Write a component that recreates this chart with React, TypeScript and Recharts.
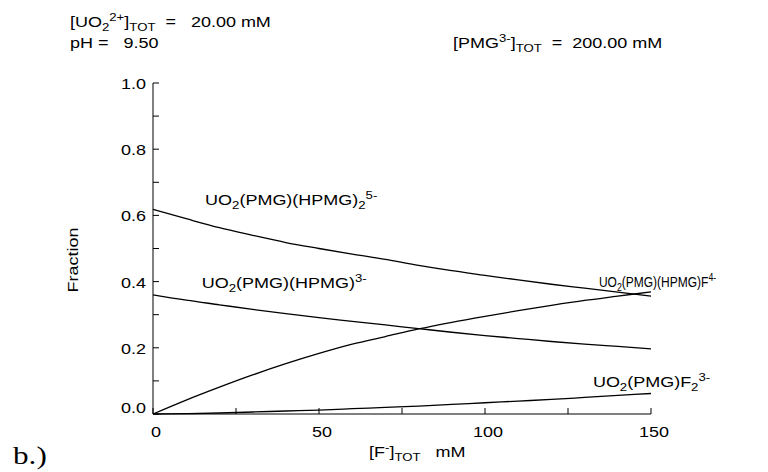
import React from 'react'
import { LineChart, Line, XAxis, YAxis, ReferenceDot } from 'recharts'

// [F-]TOT in mM
const fluoride = [0, 10, 20, 30, 40, 50, 60, 70, 80, 90, 100, 110, 120, 130, 140, 150]

// species fractions
const pmgHpmg2 = [0.618, 0.59, 0.563, 0.54, 0.518, 0.5, 0.483, 0.467, 0.449, 0.433, 0.419, 0.405, 0.392, 0.38, 0.368, 0.356]
const pmgHpmg = [0.36, 0.344, 0.33, 0.316, 0.303, 0.291, 0.28, 0.269, 0.258, 0.247, 0.237, 0.228, 0.219, 0.211, 0.204, 0.197]
const pmgHpmgF = [0, 0.042, 0.081, 0.118, 0.152, 0.183, 0.211, 0.234, 0.257, 0.277, 0.295, 0.312, 0.328, 0.343, 0.356, 0.369]
const pmgF2 = [0, 0.001, 0.003, 0.006, 0.009, 0.012, 0.016, 0.02, 0.024, 0.029, 0.034, 0.039, 0.044, 0.05, 0.056, 0.062]

const xTicks = [0, 25, 50, 75, 100, 125, 150]
const yTicks = [0, 0.1, 0.2, 0.3, 0.4, 0.5, 0.6, 0.7, 0.8, 0.9, 1.0]

const data = fluoride.map((f, i) => ({
  f,
  a: pmgHpmg2[i],
  b: pmgHpmg[i],
  c: pmgHpmgF[i],
  d: pmgF2[i],
}))

const SANS = '"Liberation Sans", Arial, sans-serif'
const SX = 1.2 // the original lettering is wide
const FS = 15
const SUB = 11

function T({ x, y, rotate = 0, anchor = 'start', size = FS, family = SANS, sx = SX, children }: any) {
  return (
    <g transform={`translate(${x},${y}) rotate(${rotate}) scale(${sx},1)`}>
      <text x={0} y={0} fontSize={size} fontFamily={family} textAnchor={anchor} fill="#000" style={{ whiteSpace: 'pre' }}>
        {children}
      </text>
    </g>
  )
}

const XTick = (p: any) => {
  const v = p.payload.value
  return (
    <g>
      <line x1={p.x} x2={p.x} y1={p.y} y2={p.y - 6} stroke="#000" />
      {v % 50 === 0 && <T x={p.x + 3} y={p.y + 23} anchor="middle">{String(v)}</T>}
    </g>
  )
}

const YTick = (p: any) => {
  const v = p.payload.value
  const major = Math.round(v * 10) % 2 === 0
  return (
    <g>
      <line x1={p.x} x2={p.x + 6} y1={p.y} y2={p.y} stroke="#000" />
      {major && <T x={p.x - 7} y={p.y + (v === 0 ? -1 : 6)} anchor="end">{v.toFixed(1)}</T>}
    </g>
  )
}

const label = (content: React.ReactNode, sx = SX) => (p: any) => <T x={p.cx} y={p.cy} sx={sx}>{content}</T>

const uo2 = (
  <>
    UO<tspan fontSize={SUB} dy={4}>2</tspan>
    <tspan fontSize={FS} dy={-4}>(PMG)</tspan>
  </>
)

export default function App() {
  return (
    <div style={{ position: 'absolute', left: 0, top: 0, width: 768, height: 472, background: '#fff' }}>
      <LineChart width={768} height={472} data={data} margin={{ top: 83, right: 117, bottom: 18, left: 93 }}>
        <XAxis
          dataKey="f"
          type="number"
          domain={[0, 150]}
          ticks={xTicks}
          interval={0}
          tickSize={0}
          tickMargin={0}
          tickLine={false}
          tick={XTick}
          height={40}
          axisLine={{ stroke: '#000' }}
        />
        <YAxis
          type="number"
          domain={[0, 1]}
          ticks={yTicks}
          interval={0}
          tickSize={0}
          tickMargin={0}
          tickLine={false}
          tick={YTick}
          width={60}
          axisLine={{ stroke: '#000' }}
        />
        <Line type="monotone" dataKey="a" stroke="#000" strokeWidth={1.3} dot={false} isAnimationActive={false} />
        <Line type="monotone" dataKey="b" stroke="#000" strokeWidth={1.3} dot={false} isAnimationActive={false} />
        <Line type="monotone" dataKey="c" stroke="#000" strokeWidth={1.3} dot={false} isAnimationActive={false} />
        <Line type="monotone" dataKey="d" stroke="#000" strokeWidth={1.3} dot={false} isAnimationActive={false} />
        <ReferenceDot
          x={15.7}
          y={0.631}
          r={0}
          shape={label(
            <>
              {uo2}(HPMG)<tspan fontSize={SUB} dy={4}>2</tspan>
              <tspan fontSize={SUB} dy={-10}>5-</tspan>
            </>
          )}
        />
        <ReferenceDot
          x={14.7}
          y={0.381}
          r={0}
          shape={label(
            <>
              {uo2}(HPMG)<tspan fontSize={SUB} dy={-6}>3-</tspan>
            </>
          )}
        />
        {/* this one is squeezed in the original to fit the margin */}
        <ReferenceDot
          x={134.3}
          y={0.384}
          r={0}
          shape={label(
            <>
              {uo2}(HPMG)F<tspan fontSize={SUB} dy={-6}>4-</tspan>
            </>,
            0.8
          )}
        />
        <ReferenceDot
          x={132.5}
          y={0.082}
          r={0}
          shape={label(
            <>
              {uo2}F<tspan fontSize={SUB} dy={4}>2</tspan>
              <tspan fontSize={SUB} dy={-10}>3-</tspan>
            </>
          )}
        />
      </LineChart>
      <svg width={768} height={472} style={{ position: 'absolute', left: 0, top: 0, pointerEvents: 'none' }}>
        <T x={70} y={27}>
          [UO<tspan fontSize={SUB} dy={4}>2</tspan>
          <tspan fontSize={SUB} dy={-10}>2+</tspan>
          <tspan fontSize={FS} dy={6}>]</tspan>
          <tspan fontSize={SUB} dy={4}>TOT</tspan>
          <tspan fontSize={FS} dy={-4}>{'  =   20.00 mM'}</tspan>
        </T>
        <T x={70} y={48}>{'pH =   9.50'}</T>
        <T x={453} y={48}>
          [PMG<tspan fontSize={SUB} dy={-6}>3-</tspan>
          <tspan fontSize={FS} dy={6}>]</tspan>
          <tspan fontSize={SUB} dy={4}>TOT</tspan>
          <tspan fontSize={FS} dy={-4}>{'  =  200.00 mM'}</tspan>
        </T>
        <T x={78} y={260} rotate={-90} anchor="middle">Fraction</T>
        <T x={369} y={457}>
          [F<tspan fontSize={SUB} dy={-6}>-</tspan>
          <tspan fontSize={FS} dy={6}>]</tspan>
          <tspan fontSize={SUB} dy={4}>TOT</tspan>
          <tspan fontSize={FS} dy={-4}>{'   mM'}</tspan>
        </T>
        <T x={13} y={464} size={26} family='"Liberation Serif", "Times New Roman", serif'>b.)</T>
      </svg>
    </div>
  )
}
